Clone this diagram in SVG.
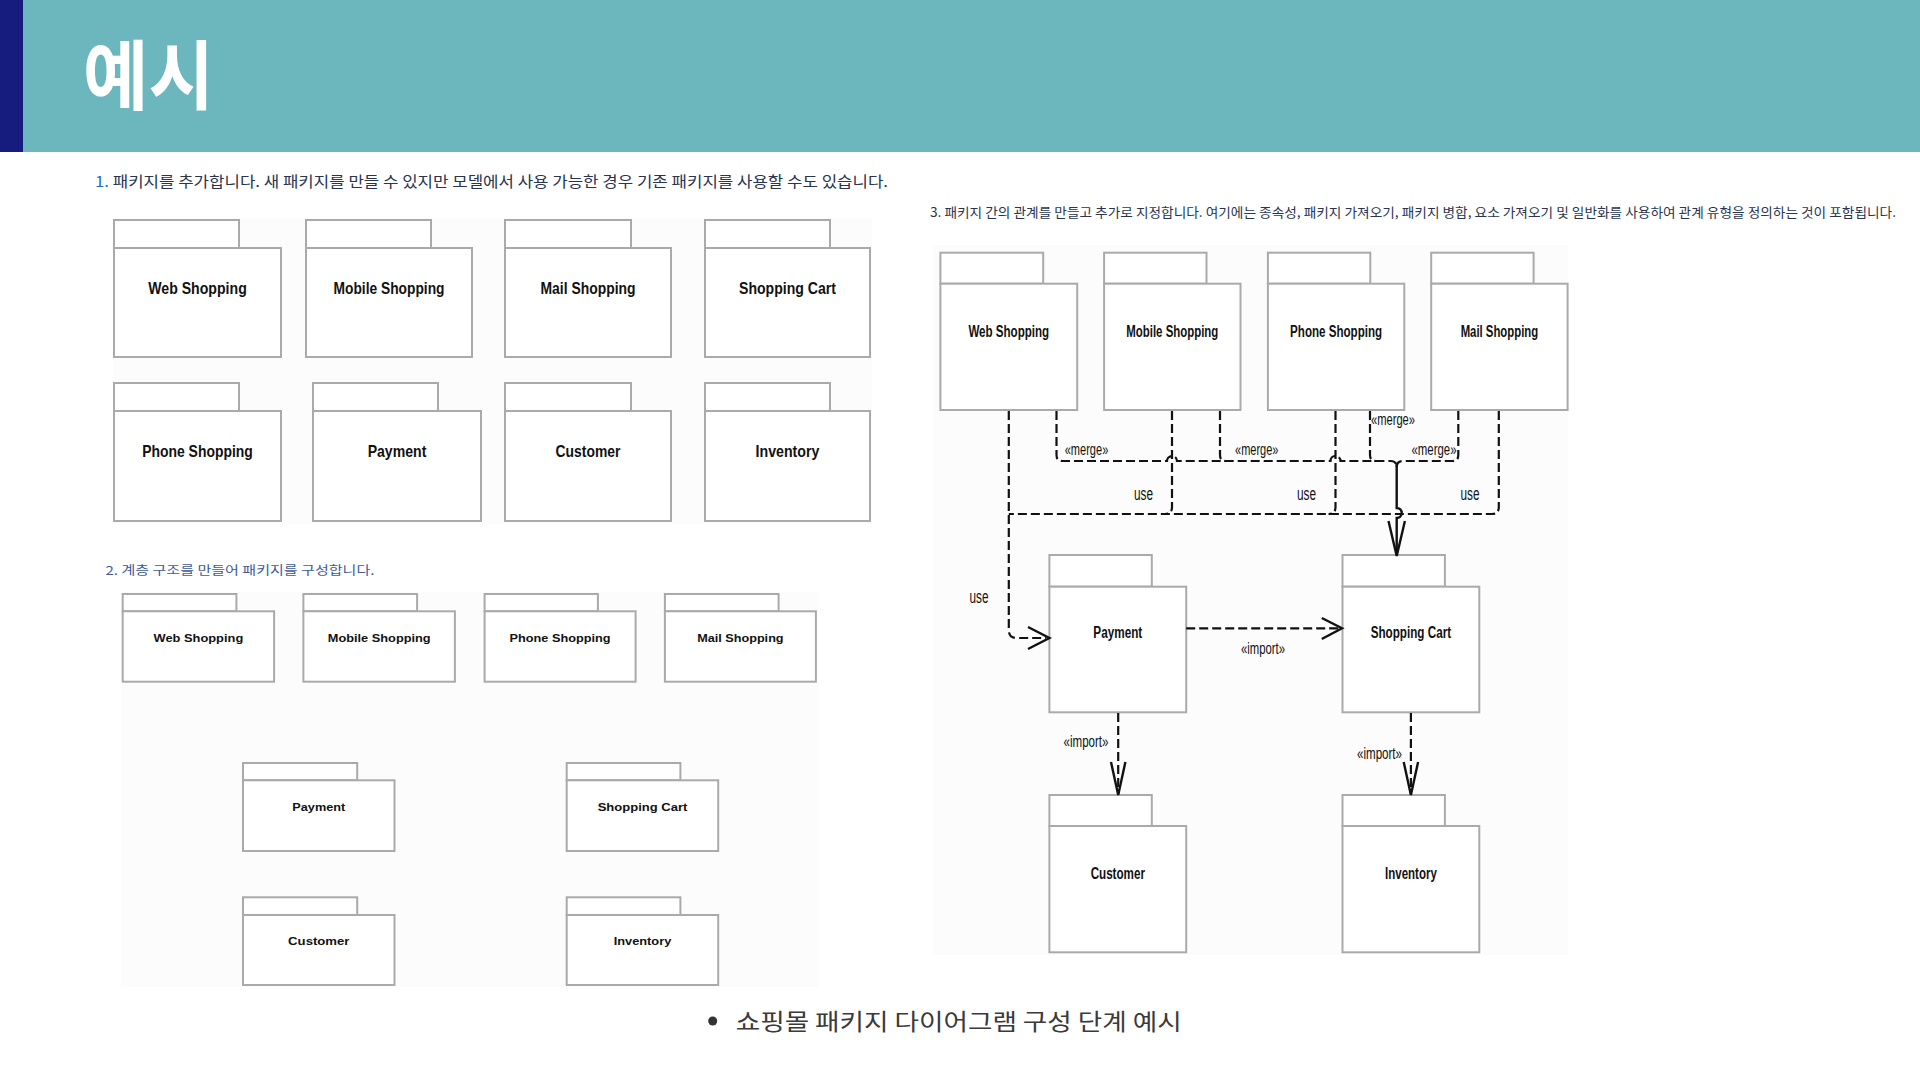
<svg xmlns="http://www.w3.org/2000/svg" width="1920" height="1080" viewBox="0 0 1920 1080">
<defs>
<style>
.kr{font-family:"Noto Sans CJK KR","Noto Sans CJK SC",sans-serif}
.pkg rect{fill:#fff;stroke:#aaaaaa;stroke-width:2}
.lb{font-family:"Liberation Sans",Arial,sans-serif;font-weight:bold;fill:#111;text-anchor:middle}
.l1{font-size:17px}
.l2{font-size:11.8px}
.l3{font-size:16px}
.st{font-family:"Liberation Sans",Arial,sans-serif;font-size:17px;fill:#111;text-anchor:middle}
.use{font-size:18px}
.dep{fill:none;stroke:#111;stroke-width:2.2;stroke-dasharray:9 4}
.sol{fill:none;stroke:#111;stroke-width:2.4}
.arr{fill:none;stroke:#111;stroke-width:2.4;stroke-linejoin:miter}
</style>
</defs>
<rect x="0" y="0" width="1920" height="1080" fill="#ffffff"/>
<g id="header">
<rect x="0" y="0" width="1920" height="152" fill="#6bb7bd"/>
<rect x="0" y="0" width="23" height="152" fill="#161b7e"/>
<text class="kr" x="83" y="104" font-size="76" font-weight="bold" fill="#ffffff" textLength="131" lengthAdjust="spacingAndGlyphs">예시</text>
</g>
<g id="step-texts">
<text class="kr" x="95" y="187" font-size="15" fill="#283450" textLength="793" lengthAdjust="spacingAndGlyphs"><tspan fill="#1b6ec2">1.</tspan> 패키지를 추가합니다. 새 패키지를 만들 수 있지만 모델에서 사용 가능한 경우 기존 패키지를 사용할 수도 있습니다.</text>
<text class="kr" x="105.5" y="575" font-size="12" fill="#3d5a99" textLength="269" lengthAdjust="spacingAndGlyphs">2. 계층 구조를 만들어 패키지를 구성합니다.</text>
<text class="kr" x="930" y="217" font-size="13" fill="#283450" textLength="966" lengthAdjust="spacingAndGlyphs">3. 패키지 간의 관계를 만들고 추가로 지정합니다. 여기에는 종속성, 패키지 가져오기, 패키지 병합, 요소 가져오기 및 일반화를 사용하여 관계 유형을 정의하는 것이 포함됩니다.</text>
</g>
<g id="panel-backgrounds" fill="#fcfcfc">
<rect x="113" y="218" width="759" height="306"/>
<rect x="121" y="592" width="697" height="395"/>
<rect x="933" y="245" width="635" height="710"/>
</g>
<!-- Panel 1 -->
<g id="p1-web" class="pkg"><rect x="114" y="220" width="125" height="28"/><rect x="114" y="248" width="167" height="109"/><text class="lb l1" x="197.5" y="294" textLength="98.5" lengthAdjust="spacingAndGlyphs">Web Shopping</text></g>
<g id="p1-mobile" class="pkg"><rect x="306" y="220" width="125" height="28"/><rect x="306" y="248" width="166" height="109"/><text class="lb l1" x="389" y="294" textLength="111" lengthAdjust="spacingAndGlyphs">Mobile Shopping</text></g>
<g id="p1-mail" class="pkg"><rect x="505" y="220" width="126" height="28"/><rect x="505" y="248" width="166" height="109"/><text class="lb l1" x="588" y="294" textLength="95" lengthAdjust="spacingAndGlyphs">Mail Shopping</text></g>
<g id="p1-cart" class="pkg"><rect x="705" y="220" width="125" height="28"/><rect x="705" y="248" width="165" height="109"/><text class="lb l1" x="787.5" y="294" textLength="97" lengthAdjust="spacingAndGlyphs">Shopping Cart</text></g>
<g id="p1-phone" class="pkg"><rect x="114" y="383" width="125" height="28"/><rect x="114" y="411" width="167" height="110"/><text class="lb l1" x="197.5" y="457" textLength="110.7" lengthAdjust="spacingAndGlyphs">Phone Shopping</text></g>
<g id="p1-payment" class="pkg"><rect x="313" y="383" width="125" height="28"/><rect x="313" y="411" width="168" height="110"/><text class="lb l1" x="397" y="457" textLength="58.7" lengthAdjust="spacingAndGlyphs">Payment</text></g>
<g id="p1-customer" class="pkg"><rect x="505" y="383" width="126" height="28"/><rect x="505" y="411" width="166" height="110"/><text class="lb l1" x="588" y="457" textLength="64.8" lengthAdjust="spacingAndGlyphs">Customer</text></g>
<g id="p1-inventory" class="pkg"><rect x="705" y="383" width="125" height="28"/><rect x="705" y="411" width="165" height="110"/><text class="lb l1" x="787.5" y="457" textLength="63.8" lengthAdjust="spacingAndGlyphs">Inventory</text></g>
<!-- Panel 2 -->
<g id="p2-web" class="pkg"><rect x="122.7" y="594" width="113.7" height="17.3"/><rect x="122.7" y="611.3" width="151.4" height="70.4"/><text class="lb l2" x="198.4" y="641.5" textLength="89.7" lengthAdjust="spacingAndGlyphs">Web Shopping</text></g>
<g id="p2-mobile" class="pkg"><rect x="303.4" y="594" width="113.7" height="17.3"/><rect x="303.4" y="611.3" width="151.5" height="70.4"/><text class="lb l2" x="379.2" y="641.5" textLength="102.9" lengthAdjust="spacingAndGlyphs">Mobile Shopping</text></g>
<g id="p2-phone" class="pkg"><rect x="484.6" y="594" width="113.3" height="17.3"/><rect x="484.6" y="611.3" width="151" height="70.4"/><text class="lb l2" x="560.1" y="641.5" textLength="101" lengthAdjust="spacingAndGlyphs">Phone Shopping</text></g>
<g id="p2-mail" class="pkg"><rect x="664.9" y="594" width="113.7" height="17.3"/><rect x="664.9" y="611.3" width="151" height="70.4"/><text class="lb l2" x="740.4" y="641.5" textLength="86.4" lengthAdjust="spacingAndGlyphs">Mail Shopping</text></g>
<g id="p2-payment" class="pkg"><rect x="243" y="763" width="114.2" height="17.3"/><rect x="243" y="780.3" width="151.5" height="70.7"/><text class="lb l2" x="318.8" y="810.5" textLength="52.9" lengthAdjust="spacingAndGlyphs">Payment</text></g>
<g id="p2-cart" class="pkg"><rect x="566.7" y="763" width="113.7" height="17.3"/><rect x="566.7" y="780.3" width="151.5" height="70.7"/><text class="lb l2" x="642.5" y="810.5" textLength="89.7" lengthAdjust="spacingAndGlyphs">Shopping Cart</text></g>
<g id="p2-customer" class="pkg"><rect x="243" y="897.3" width="114.2" height="17.7"/><rect x="243" y="915" width="151.5" height="70"/><text class="lb l2" x="318.8" y="945" textLength="61.4" lengthAdjust="spacingAndGlyphs">Customer</text></g>
<g id="p2-inventory" class="pkg"><rect x="566.7" y="897.3" width="113.7" height="17.7"/><rect x="566.7" y="915" width="151.5" height="70"/><text class="lb l2" x="642.5" y="945" textLength="57.6" lengthAdjust="spacingAndGlyphs">Inventory</text></g>
<!-- Panel 3 -->
<g id="p3-web" class="pkg"><rect x="940.4" y="252.7" width="102.8" height="31"/><rect x="940.4" y="283.7" width="136.8" height="126.3"/><text class="lb l3" x="1008.8" y="336.5" textLength="80.8" lengthAdjust="spacingAndGlyphs">Web Shopping</text></g>
<g id="p3-mobile" class="pkg"><rect x="1104.1" y="252.7" width="102.4" height="31"/><rect x="1104.1" y="283.7" width="136.4" height="126.3"/><text class="lb l3" x="1172.3" y="336.5" textLength="92" lengthAdjust="spacingAndGlyphs">Mobile Shopping</text></g>
<g id="p3-phone" class="pkg"><rect x="1267.9" y="252.7" width="102.4" height="31"/><rect x="1267.9" y="283.7" width="136.4" height="126.3"/><text class="lb l3" x="1336.1" y="336.5" textLength="92" lengthAdjust="spacingAndGlyphs">Phone Shopping</text></g>
<g id="p3-mail" class="pkg"><rect x="1431.2" y="252.7" width="102.4" height="31"/><rect x="1431.2" y="283.7" width="136.4" height="126.3"/><text class="lb l3" x="1499.4" y="336.5" textLength="77.5" lengthAdjust="spacingAndGlyphs">Mail Shopping</text></g>
<g id="p3-payment" class="pkg"><rect x="1049.4" y="555" width="102.4" height="31.7"/><rect x="1049.4" y="586.7" width="136.8" height="125.6"/><text class="lb l3" x="1117.8" y="637.7" textLength="48.9" lengthAdjust="spacingAndGlyphs">Payment</text></g>
<g id="p3-cart" class="pkg"><rect x="1342.5" y="555" width="102.4" height="31.7"/><rect x="1342.5" y="586.7" width="136.8" height="125.6"/><text class="lb l3" x="1410.9" y="637.7" textLength="80.4" lengthAdjust="spacingAndGlyphs">Shopping Cart</text></g>
<g id="p3-customer" class="pkg"><rect x="1049.4" y="795" width="102.4" height="31"/><rect x="1049.4" y="826" width="136.8" height="126.3"/><text class="lb l3" x="1117.8" y="879" textLength="54.3" lengthAdjust="spacingAndGlyphs">Customer</text></g>
<g id="p3-inventory" class="pkg"><rect x="1342.5" y="795" width="102.4" height="31"/><rect x="1342.5" y="826" width="136.8" height="126.3"/><text class="lb l3" x="1410.9" y="879" textLength="51.8" lengthAdjust="spacingAndGlyphs">Inventory</text></g>
<g id="connectors">
<!-- use dependencies -->
<path class="dep" d="M1008.8,411 V630 Q1008.8,638 1016.8,638 H1046"/>
<path class="dep" d="M1498.8,411 V507 Q1498.8,514 1491.8,514 H1008.8"/>
<path class="dep" d="M1172,411 V507 Q1172,514 1165,514"/>
<path class="dep" d="M1335.5,411 V507 Q1335.5,514 1328.5,514"/>
<polyline class="arr" points="1028,627 1049.4,638 1028,649"/>
<!-- merge dependencies -->
<path class="dep" d="M1056.5,411 V455 Q1056.5,461 1062.5,461 H1167 A5,5 0 0 1 1177,461 H1330.5 A5,5 0 0 1 1340.5,461 H1390.7 Q1396.7,461 1396.7,467"/>
<path class="dep" d="M1220,411 V455 Q1220,461 1226,461"/>
<path class="dep" d="M1370,411 V455 Q1370,461 1376,461"/>
<path class="dep" d="M1458.3,411 V455 Q1458.3,461 1452.3,461 H1402.7 Q1396.7,461 1396.7,467"/>
<path class="sol" d="M1396.7,464 V508 A5,5 0 0 1 1396.7,518 V555"/>
<polyline class="arr" points="1388.5,521 1396.7,556 1404.9,521"/>
<!-- import dependencies -->
<path class="dep" d="M1186.2,628.3 H1340"/>
<polyline class="arr" points="1321.8,618 1342,628.3 1321.8,639"/>
<path class="dep" d="M1118.2,713 V794"/>
<polyline class="arr" points="1111,762 1118.2,795 1125.4,762"/>
<path class="dep" d="M1410.9,713 V794"/>
<polyline class="arr" points="1403.7,762 1410.9,795 1418.1,762"/>
<!-- labels -->
<text class="st use" x="1143.5" y="500" textLength="19" lengthAdjust="spacingAndGlyphs">use</text>
<text class="st use" x="1306.5" y="500" textLength="19" lengthAdjust="spacingAndGlyphs">use</text>
<text class="st use" x="1470" y="500" textLength="19" lengthAdjust="spacingAndGlyphs">use</text>
<text class="st use" x="979" y="603" textLength="19" lengthAdjust="spacingAndGlyphs">use</text>
<text class="st" x="1086.5" y="455" textLength="43.6" lengthAdjust="spacingAndGlyphs">«merge»</text>
<text class="st" x="1256.7" y="455" textLength="43.3" lengthAdjust="spacingAndGlyphs">«merge»</text>
<text class="st" x="1393" y="425" textLength="44" lengthAdjust="spacingAndGlyphs">«merge»</text>
<text class="st" x="1434" y="455" textLength="45" lengthAdjust="spacingAndGlyphs">«merge»</text>
<text class="st" x="1263" y="653.5" textLength="44" lengthAdjust="spacingAndGlyphs">«import»</text>
<text class="st" x="1086" y="747" textLength="45" lengthAdjust="spacingAndGlyphs">«import»</text>
<text class="st" x="1379.5" y="758.5" textLength="45" lengthAdjust="spacingAndGlyphs">«import»</text>
</g>
<g id="caption">
<circle cx="712.7" cy="1021" r="4.5" fill="#333333"/>
<text class="kr" x="735.7" y="1030" font-size="23" fill="#3a3a3a" textLength="446" lengthAdjust="spacingAndGlyphs">쇼핑몰 패키지 다이어그램 구성 단계 예시</text>
</g>
</svg>
